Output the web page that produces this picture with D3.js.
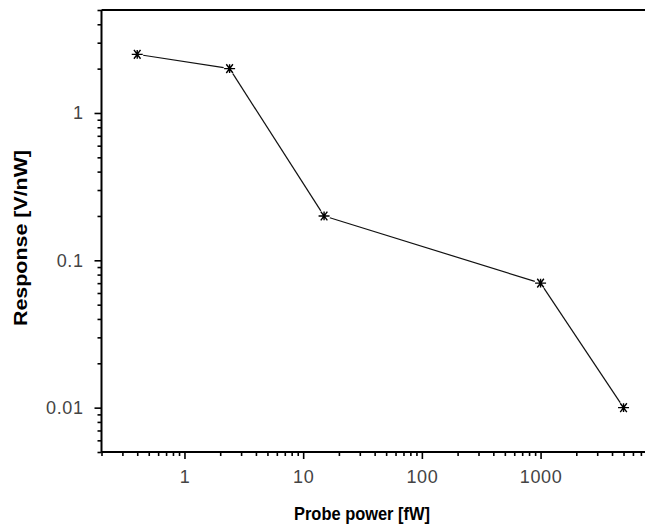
<!DOCTYPE html>
<html><head><meta charset="utf-8">
<script src="https://cdn.jsdelivr.net/npm/d3@7"></script>
<style>
body{margin:0;background:#fff;}
svg{display:block;}
</style></head>
<body>
<svg id="c" width="645" height="525"></svg>
<script>
const power = [0.4, 2.4, 15, 1000, 5000];
const response = [2.5, 2.0, 0.2, 0.07, 0.01];
const xTickLabels = [1, 10, 100, 1000];
const yTickLabels = [0.01, 0.1, 1];

const svg = d3.select("#c");
const L = 101.5, T = 10, B = 452;
const x = d3.scaleLog().domain([0.2, 10000]).range([L, L + 118.7 * Math.log10(10000 / 0.2)]);
const y = d3.scaleLog().domain([0.005, 5]).range([B, T]);

// minor ticks
const xMinor = [];
for (let e = -1; e <= 3; e++) for (let m = 2; m <= 9; m++) { const v = m * Math.pow(10, e); if (v >= 0.2 && v <= 10000) xMinor.push(v); }
const yMinor = [];
for (let e = -3; e <= 0; e++) for (let m = 2; m <= 9; m++) { const v = m * Math.pow(10, e); if (v >= 0.005 && v <= 5) yMinor.push(v); }

const g = svg.append("g");
const xAxisMinor = d3.axisBottom(x).tickValues(xMinor).tickSize(4).tickFormat("");
const xAxisMajor = d3.axisBottom(x).tickValues(xTickLabels).tickSize(7).tickPadding(11).tickFormat(d3.format("d"));
const gx1 = g.append("g").attr("transform", `translate(0,${B})`).call(xAxisMinor);
const gx2 = g.append("g").attr("transform", `translate(0,${B})`).call(xAxisMajor);
const yAxisMinor = d3.axisLeft(y).tickValues(yMinor).tickSize(4).tickFormat("");
const yAxisMajor = d3.axisLeft(y).tickValues(yTickLabels).tickSize(7).tickPadding(11).tickFormat(d => String(d));
const gy1 = g.append("g").attr("transform", `translate(${L},0)`).call(yAxisMinor);
const gy2 = g.append("g").attr("transform", `translate(${L},0)`).call(yAxisMajor);

[gx1, gx2, gy1, gy2].forEach(a => {
  a.select(".domain").attr("stroke", "#000").attr("stroke-width", 2);
  a.selectAll(".tick line").attr("stroke", "#000").attr("stroke-width", 1.6);
  a.selectAll(".tick text").attr("font-family", "Liberation Sans, Arial, sans-serif").attr("font-size", 18)
    .attr("letter-spacing", 0.6).attr("fill", "#444");
});
gx1.select(".domain").remove(); gy1.select(".domain").remove();
gx2.select(".domain").attr("d", `M${x.range()[0]},0H${x.range()[1]}`);
gy2.select(".domain").attr("d", `M0,${B}V${T}`);

g.append("line").attr("x1", L).attr("x2", x.range()[1]).attr("y1", T).attr("y2", T)
  .attr("stroke", "#000").attr("stroke-width", 2);

// data
const pts = power.map((p, i) => [x(p), y(response[i])]);
const gap = 6;
for (let i = 0; i < pts.length - 1; i++) {
  const [x1, y1] = pts[i], [x2, y2] = pts[i + 1];
  const dx = x2 - x1, dy = y2 - y1, len = Math.hypot(dx, dy);
  const ux = dx / len, uy = dy / len;
  svg.append("line")
    .attr("x1", x1 + ux * gap).attr("y1", y1 + uy * gap)
    .attr("x2", x2 - ux * gap).attr("y2", y2 - uy * gap)
    .attr("stroke", "#111").attr("stroke-width", 1.2);
}
const r = 5.5;
const star = `M${-r},0H${r}M${-r*0.6},${-r*0.8}L${r*0.6},${r*0.8}M${-r*0.6},${r*0.8}L${r*0.6},${-r*0.8}M0,${-r*0.8}V${r*0.8}`;
svg.selectAll("path.pt").data(pts).join("path").attr("class", "pt")
  .attr("transform", d => `translate(${d[0]},${d[1]})`)
  .attr("d", star).attr("stroke", "#000").attr("stroke-width", 1.4).attr("fill", "none");

// titles
svg.append("text").attr("x", 362).attr("y", 520).attr("text-anchor", "middle")
  .attr("font-family", "Liberation Sans, Arial, sans-serif").attr("font-weight", "bold").attr("font-size", 18)
  .attr("textLength", 136).attr("lengthAdjust", "spacingAndGlyphs")
  .text("Probe power [fW]");
svg.append("text").attr("transform", "translate(27,238) rotate(-90)").attr("text-anchor", "middle")
  .attr("font-family", "Liberation Sans, Arial, sans-serif").attr("font-weight", "bold").attr("font-size", 19)
  .attr("textLength", 176).attr("lengthAdjust", "spacingAndGlyphs")
  .text("Response [V/nW]");
</script>
</body></html>
